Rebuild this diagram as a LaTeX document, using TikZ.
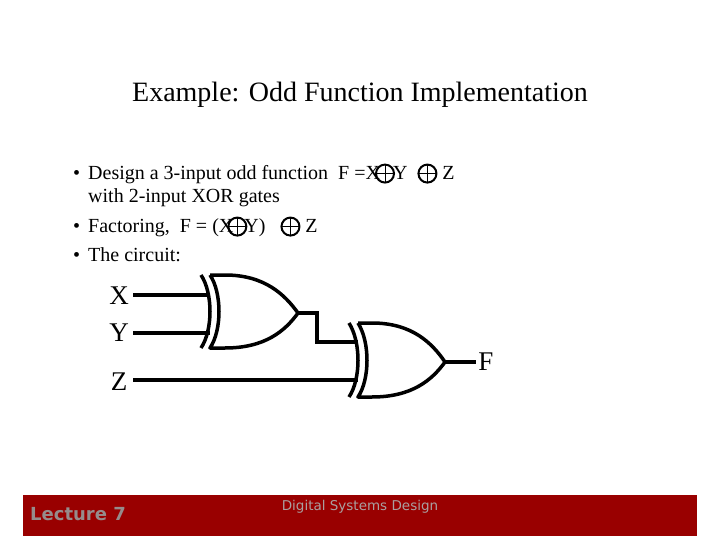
\documentclass[tikz,border=0pt]{standalone}
\usepackage{fontspec}
\setmainfont{Liberation Serif}
\newfontfamily\footfont{DejaVu Sans}
\newcommand{\xo}{\tikz[baseline=-0.7ex,x=1pt,y=1pt]{\draw[line width=2pt] (0,0) circle (9); \draw[line width=1pt] (-9,0)--(9,0) (0,-9)--(0,9);}}
\begin{document}
\begin{tikzpicture}[x=1pt,y=-1pt,
  txt/.style={anchor=base west,inner sep=0pt,font=\fontsize{20}{22}\selectfont},
  lbl/.style={inner sep=0pt,font=\fontsize{27}{29}\selectfont},
  gate/.style={line width=3.5pt,line join=round},
  wire/.style={line width=3.5pt}]
\useasboundingbox (0,0) rectangle (720,540);
\fill[white] (0,0) rectangle (720,540);
\node[inner sep=0pt,font=\fontsize{28}{30}\selectfont] (title) at (360,95) {Example: Odd Function Implementation};
\node[txt] (b1) at (73,180) {•};
\node[txt] (t1) at (88,180) {Design a 3-input odd function\ \ F =X\hspace{-5pt}\xo\hspace{-2pt}Y \ \xo\ Z};
\node[txt] (t1b) at (88,203) {with 2-input XOR gates};
\node[txt] (b2) at (73,233) {•};
\node[txt] (t2) at (88,233) {Factoring,\ \ F = (X\hspace{-6pt}\xo\hspace{-3pt}Y) \ \ \xo\ Z};
\node[txt] (b3) at (73,261) {•};
\node[txt] (t3) at (88,261) {The circuit:};
% gate 1
\draw[gate] (210,275) -- (225,275) .. controls (265,275) and (285,295) .. (298,313) .. controls (285,331) and (265,348) .. (225,348) -- (210,348) .. controls (222,330) and (222,293) .. (210,275);
\draw[gate] (201,275) .. controls (213,293) and (213,330) .. (201,348);
\coordinate (g1a) at (210,295);
\coordinate (g1b) at (210,333);
\coordinate (g1o) at (298,313);
% gate 2
\draw[gate] (358,323) -- (372,323) .. controls (412,323) and (432,343) .. (445,362) .. controls (432,380) and (412,397) .. (372,397) -- (358,397) .. controls (370,379) and (370,342) .. (358,323);
\draw[gate] (349,323) .. controls (361,342) and (361,379) .. (349,397);
\coordinate (g2a) at (358,342);
\coordinate (g2b) at (358,380);
\coordinate (g2o) at (445,362);
\node[lbl] (X) at (119,296) {X};
\node[lbl] (Y) at (119,333) {Y};
\node[lbl] (Z) at (119,382) {Z};
\node[lbl] (F) at (486,362) {F};
\coordinate (xs) at (133,295);
\coordinate (ys) at (133,333);
\coordinate (zs) at (133,380);
\draw[wire] (xs) -- (g1a);
\draw[wire] (ys) -- (g1b);
\draw[wire] (zs) -- (g2b);
\draw[wire,line join=miter] (g1o) -- (317,313) -- (317,342) -- (g2a);
\draw[wire] (g2o) -- (476,362);
% footer
\fill[fill={rgb,255:red,153;green,0;blue,0}] (23,495) rectangle (697,536);
\node[font=\footfont\bfseries\fontsize{18}{20}\selectfont,text={rgb,255:red,150;green,140;blue,140}] (lec) at (78,514) {Lecture 7};
\node[font=\footfont\fontsize{13.5}{15}\selectfont,text={rgb,255:red,170;green,160;blue,160}] (dsd) at (360,507) {Digital Systems Design};
\end{tikzpicture}
\end{document}
